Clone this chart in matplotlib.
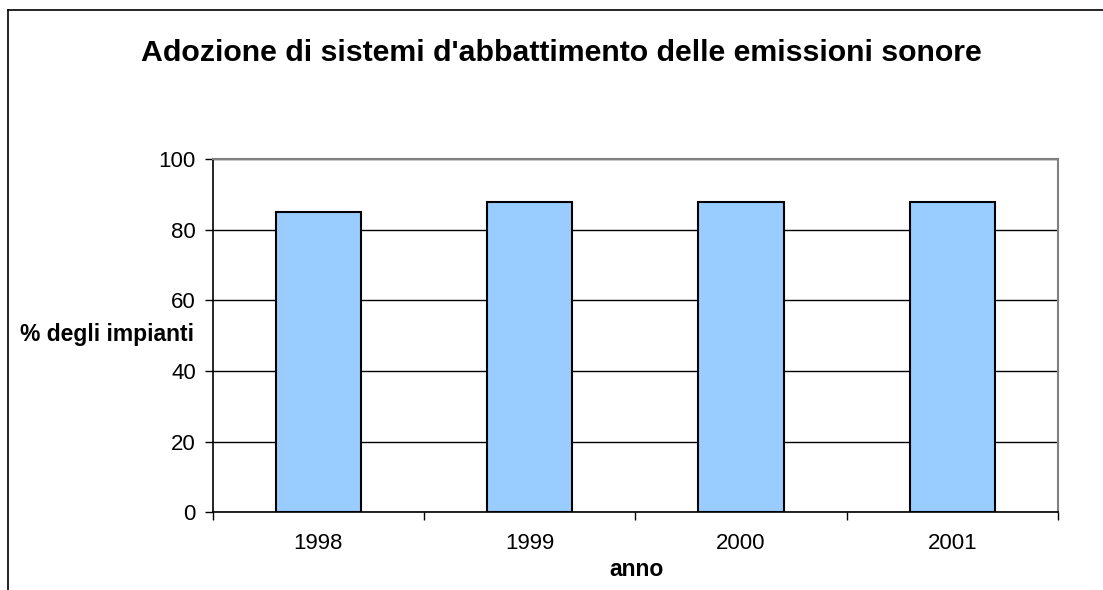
import matplotlib.pyplot as plt
from matplotlib.lines import Line2D
import numpy as np

plt.rcParams['font.family'] = ['Liberation Sans', 'DejaVu Sans']

anni = ['1998', '1999', '2000', '2001']
percentuali = [85, 88, 88, 88]

fig = plt.figure(figsize=(11.03, 5.90), dpi=100)
ax = fig.add_axes([0.1928, 0.1317, 0.7664, 0.5983])

x = np.arange(len(anni))
ax.bar(x, percentuali, width=0.405, color='#99CCFF', edgecolor='black',
       linewidth=1.5, zorder=3)

ax.set_xlim(-0.5, len(anni) - 0.5)
ax.set_ylim(0, 100)
ax.set_yticks([0, 20, 40, 60, 80, 100])
ax.set_xticks(x)
ax.set_xticklabels(anni)
ax.set_xticks(np.arange(-0.5, len(anni), 1), minor=True)
ax.tick_params(axis='x', which='major', length=0, pad=15, labelsize=16)
ax.tick_params(axis='x', which='minor', length=6, width=1, color='black')
ax.tick_params(axis='y', length=6, width=1, labelsize=16, pad=6)

ax.yaxis.grid(True, color='black', linewidth=1)
ax.set_axisbelow(True)

ax.spines['top'].set_color('#808080')
ax.spines['right'].set_color('#808080')
ax.spines['top'].set_linewidth(1.5)
ax.spines['right'].set_linewidth(1.5)
ax.spines['left'].set_linewidth(1.2)
ax.spines['bottom'].set_linewidth(1.2)

fig.text(561 / 1103, 1 - 53 / 590, "Adozione di sistemi d'abbattimento delle emissioni sonore",
         ha='center', va='center', fontsize=21.8, fontweight='bold')
fig.text(107 / 1103, 1 - 334 / 590, '% degli impianti', ha='center', va='center',
         fontsize=16.5, fontweight='bold')
fig.text(636 / 1103, 1 - 569 / 590, 'anno', ha='center', va='center',
         fontsize=16.5, fontweight='bold')

# bordo dell'area del grafico
fig.add_artist(Line2D([8 / 1103, 8 / 1103], [0, 1 - 10 / 590], color='black', lw=1.2,
                      transform=fig.transFigure))
fig.add_artist(Line2D([8 / 1103, 1], [1 - 10 / 590, 1 - 10 / 590], color='black', lw=1.2,
                      transform=fig.transFigure))

fig.savefig('out.png', dpi=100)
